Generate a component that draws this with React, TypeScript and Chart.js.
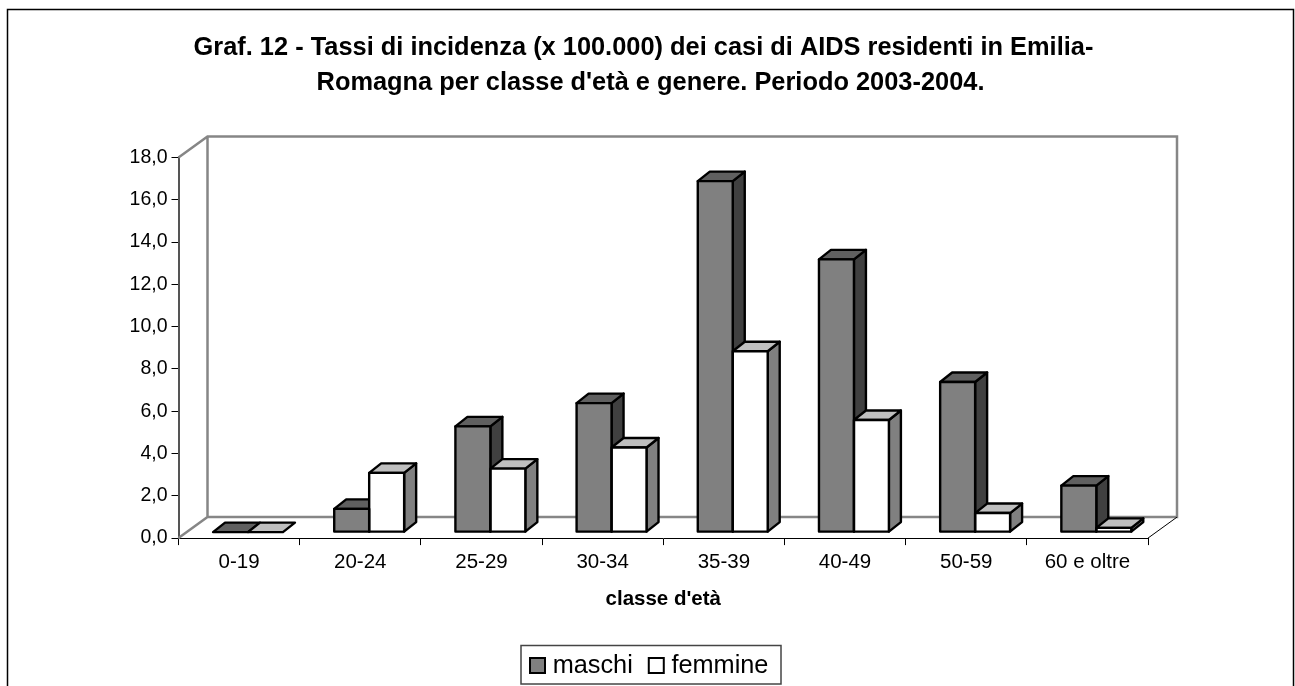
import React, { useEffect, useRef } from "react";
import { Chart, registerables } from "chart.js";

Chart.register(...registerables);

const categories = ["0-19", "20-24", "25-29", "30-34", "35-39", "40-49", "50-59", "60 e oltre"];
const maschi = [0, 1.1, 5.0, 6.1, 16.6, 12.9, 7.1, 2.2];
const femmine = [0, 2.8, 3.0, 4.0, 8.55, 5.3, 0.9, 0.2];
const titleLines = [
  "Graf. 12 - Tassi di incidenza (x 100.000) dei casi di AIDS residenti in Emilia-  ",
  "Romagna per classe d'età e genere. Periodo 2003-2004.",
];
const FONT = "'Liberation Sans', Arial, sans-serif";

// 3D look
const WALL_DX = 29, WALL_DY = 21;
const BAR_SHIFT_X = 8.9, BAR_SHIFT_Y = 6;
const TOP_DX = 12, TOP_DY = 9.5;
const LEGEND_PAD = 15;
const BAR_STROKE = 2.4;

const palette = [
  { front: "#808080", top: "#606060", side: "#404040" },
  { front: "#ffffff", top: "#bfbfbf", side: "#808080" },
];

function poly(ctx: CanvasRenderingContext2D, pts: number[][], fill: string) {
  ctx.beginPath();
  pts.forEach((p, i) => (i ? ctx.lineTo(p[0], p[1]) : ctx.moveTo(p[0], p[1])));
  ctx.closePath();
  ctx.fillStyle = fill;
  ctx.fill();
  ctx.stroke();
}

const threeD = {
  id: "threeD",
  afterLayout(chart: any) {
    const t = chart.titleBlock;
    t.left = 650.5 - 600;
    t.right = 650.5 + 600;
    const l = chart.legend;
    l.left = 529 - LEGEND_PAD;
    l.right = l.left + 300;
    l.top = 638;
    l.bottom = l.top + l.height;
  },
  beforeDraw(chart: any) {
    const { ctx } = chart;
    ctx.save();
    ctx.fillStyle = "#fff";
    ctx.fillRect(0, 0, chart.width, chart.height);
    ctx.strokeStyle = "#000";
    ctx.lineWidth = 1.5;
    ctx.strokeRect(7.5, 9.5, 1286, 700);
    ctx.restore();
  },
  beforeDatasetsDraw(chart: any) {
    const { ctx, chartArea: a } = chart;
    ctx.save();
    // walls
    ctx.strokeStyle = "#868686";
    ctx.lineWidth = 2.5;
    ctx.beginPath();
    ctx.moveTo(a.left, a.top);
    ctx.lineTo(a.left + WALL_DX, a.top - WALL_DY);
    ctx.lineTo(a.right + WALL_DX, a.top - WALL_DY);
    ctx.lineTo(a.right + WALL_DX, a.bottom - WALL_DY);
    ctx.lineTo(a.left + WALL_DX, a.bottom - WALL_DY);
    ctx.lineTo(a.left, a.bottom);
    ctx.moveTo(a.left + WALL_DX, a.top - WALL_DY);
    ctx.lineTo(a.left + WALL_DX, a.bottom - WALL_DY);
    ctx.stroke();
    ctx.strokeStyle = "#000";
    ctx.lineWidth = 1;
    ctx.beginPath();
    ctx.moveTo(a.right, a.bottom);
    ctx.lineTo(a.right + WALL_DX, a.bottom - WALL_DY);
    ctx.stroke();

    // side and top faces of each bar, in drawing order
    ctx.strokeStyle = "#000";
    ctx.lineWidth = BAR_STROKE;
    ctx.lineJoin = "round";
    const n = categories.length;
    for (let i = 0; i < n; i++) {
      [0, 1].forEach((d) => {
        const bar = chart.getDatasetMeta(d).data[i];
        const w = bar.width;
        const x0 = bar.x - w / 2 + BAR_SHIFT_X;
        const x1 = bar.x + w / 2 + BAR_SHIFT_X;
        const yt = bar.y - BAR_SHIFT_Y;
        const yb = bar.base - BAR_SHIFT_Y;
        if (yb - yt > 0.5) {
          poly(ctx, [[x1, yt], [x1 + TOP_DX, yt - TOP_DY], [x1 + TOP_DX, yb - TOP_DY], [x1, yb]], palette[d].side);
        }
        poly(ctx, [[x0, yt], [x0 + TOP_DX, yt - TOP_DY], [x1 + TOP_DX, yt - TOP_DY], [x1, yt]], palette[d].top);
      });
    }
    ctx.restore();
    ctx.save();
    ctx.translate(BAR_SHIFT_X, -BAR_SHIFT_Y);
  },
  afterDatasetsDraw(chart: any) {
    const { ctx } = chart;
    ctx.restore();
    ctx.save();
    ctx.strokeStyle = "#000";
    ctx.lineWidth = BAR_STROKE;
    ctx.lineJoin = "round";
    [0, 1].forEach((d) => {
      chart.getDatasetMeta(d).data.forEach((bar: any) => {
        const h = bar.base - bar.y;
        if (h > 0.5) {
          ctx.strokeRect(bar.x - bar.width / 2 + BAR_SHIFT_X, bar.y - BAR_SHIFT_Y, bar.width, h);
        }
      });
    });
    ctx.restore();
  },
  afterDraw(chart: any) {
    const { ctx } = chart;
    const l = chart.legend;
    const hb = l.legendHitBoxes;
    const first = l.left + LEGEND_PAD;
    ctx.save();
    ctx.strokeStyle = "#444";
    ctx.lineWidth = 1.5;
    ctx.strokeRect(first - 8, 645.5, 260, 38.5);
    const xs = [first, first + hb[0].width + LEGEND_PAD];
    ctx.strokeStyle = "#000";
    ctx.lineWidth = 2;
    xs.forEach((x, i) => {
      ctx.fillStyle = palette[i].front;
      ctx.fillRect(x + 1, 658, 15, 15);
      ctx.strokeRect(x + 1, 658, 15, 15);
    });
    ctx.restore();
  },
};

export default function App() {
  const ref = useRef<HTMLCanvasElement>(null);
  useEffect(() => {
    document.body.style.margin = "0";
    document.body.style.overflow = "hidden";
    const chart = new Chart(ref.current!, {
      type: "bar",
      data: {
        labels: categories,
        datasets: [
          { label: "maschi", data: maschi, backgroundColor: palette[0].front, borderWidth: 0, clip: false } as any,
          { label: "femmine", data: femmine, backgroundColor: palette[1].front, borderWidth: 0, clip: false } as any,
        ],
      },
      plugins: [threeD],
      options: {
        animation: false,
        responsive: false,
        events: [],
        layout: { padding: { left: 0, right: 147, top: 0, bottom: 0 } },
        datasets: { bar: { categoryPercentage: 0.577, barPercentage: 1, inflateAmount: 0 } },
        plugins: {
          tooltip: { enabled: false },
          title: {
            display: true,
            text: titleLines,
            color: "#000",
            font: { family: FONT, size: 25.4, weight: "bold", lineHeight: 1.37 },
            padding: { top: 30.5, bottom: 57.4 },
          },
          legend: {
            display: true,
            position: "bottom",
            align: "start",
            labels: {
              color: "#000",
              font: { family: FONT, size: 25.3 },
              boxWidth: 11,
              boxHeight: 11,
              padding: LEGEND_PAD,
              generateLabels: (c: any) =>
                c.data.datasets.map((ds: any, i: number) => ({
                  text: ds.label,
                  fillStyle: "rgba(0,0,0,0)",
                  strokeStyle: "rgba(0,0,0,0)",
                  lineWidth: 0,
                  datasetIndex: i,
                })),
            },
          },
        },
        scales: {
          x: {
            type: "category",
            grid: { drawOnChartArea: false, drawTicks: true, tickLength: 7, offset: true, color: "#000", lineWidth: 1 },
            border: { display: true, color: "#000", width: 1 },
            ticks: { color: "#000", font: { family: FONT, size: 20.5 }, padding: 5, maxRotation: 0, autoSkip: false },
            title: {
              display: true,
              text: "classe d'età",
              color: "#000",
              font: { family: FONT, size: 20.5, weight: "bold" },
              padding: { top: 10, bottom: 24.3 },
            },
            afterFit: (s: any) => { s.height = 97.6; },
          },
          y: {
            type: "linear",
            min: 0,
            max: 18,
            grid: { drawOnChartArea: false, drawTicks: true, tickLength: 7, color: "#000", lineWidth: 1 },
            border: { display: true, color: "#555", width: 2 },
            ticks: {
              color: "#000",
              stepSize: 2,
              font: { family: FONT, size: 19.5 },
              padding: 4,
              callback: (v: any) => Number(v).toFixed(1).replace(".", ","),
            },
            afterFit: (s: any) => { s.width = 178.5; },
          },
        },
      } as any,
    });
    return () => chart.destroy();
  }, []);
  return <canvas ref={ref} width={1295} height={686} style={{ display: "block", width: 1295, height: 686 }} />;
}
